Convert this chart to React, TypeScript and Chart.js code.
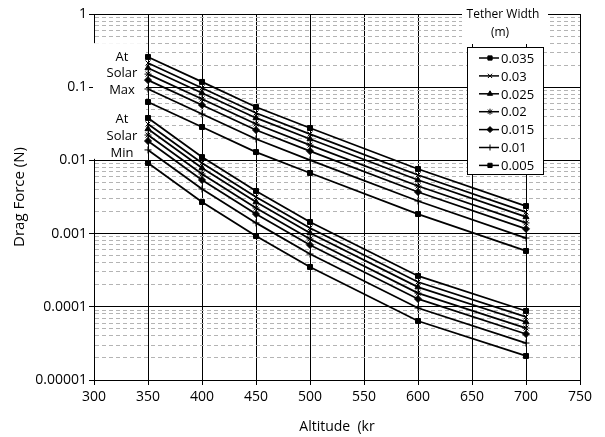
import React, { useEffect, useRef } from 'react';
import { Chart, registerables } from 'chart.js';
import { drawPoint } from 'chart.js/helpers';

Chart.register(...registerables);

const ALTITUDES = [350, 400, 450, 500, 600, 700];
const WIDTHS = ['0.035', '0.03', '0.025', '0.02', '0.015', '0.01', '0.005'];
const POINT_STYLES = ['rect', 'crossRot', 'triangle', 'star', 'rectRot', 'cross', 'rect'];

// Solar maximum drag force (N), one array per tether width
const MAX_0035 = [0.259, 0.118, 0.0536, 0.0277, 0.00763, 0.00238];
const MAX_0030 = [0.214, 0.0975, 0.0444, 0.0229, 0.00632, 0.00197];
const MAX_0025 = [0.183, 0.0833, 0.038, 0.0196, 0.0054, 0.00169];
const MAX_0020 = [0.151, 0.069, 0.0314, 0.0162, 0.00447, 0.0014];
const MAX_0015 = [0.125, 0.0571, 0.026, 0.0134, 0.0037, 0.00116];
const MAX_0010 = [0.0945, 0.043, 0.0196, 0.0101, 0.00279, 0.00087];
const MAX_0005 = [0.0628, 0.0286, 0.013, 0.00673, 0.00185, 0.000579];

// Solar minimum drag force (N)
const MIN_0035 = [0.038, 0.0111, 0.00382, 0.00144, 0.000264, 0.0000876];
const MIN_0030 = [0.0314, 0.00922, 0.00316, 0.00119, 0.000218, 0.0000726];
const MIN_0025 = [0.0269, 0.00787, 0.0027, 0.00102, 0.000186, 0.000062];
const MIN_0020 = [0.0222, 0.00652, 0.00224, 0.000844, 0.000154, 0.0000513];
const MIN_0015 = [0.0184, 0.0054, 0.00185, 0.000699, 0.000128, 0.0000425];
const MIN_0010 = [0.0139, 0.00407, 0.0014, 0.000526, 0.0000963, 0.000032];
const MIN_0005 = [0.00922, 0.0027, 0.000927, 0.00035, 0.000064, 0.0000213];

const SOLAR_MAX = [MAX_0035, MAX_0030, MAX_0025, MAX_0020, MAX_0015, MAX_0010, MAX_0005];
const SOLAR_MIN = [MIN_0035, MIN_0030, MIN_0025, MIN_0020, MIN_0015, MIN_0010, MIN_0005];

const X_MIN = 300;
const X_MAX = 750;
const X_STEP = 50;
const Y_DECADES = [0.00001, 0.0001, 0.001, 0.01, 0.1, 1];
const Y_TICK_LABELS = ['0.00001', '0.0001', '0.001', '0.01', '0.1', '1'];
const MINOR_MULTIPLES = [2, 3, 4, 5, 6, 7, 8, 9];

const FONT = "'Open Sans', 'DejaVu Sans', sans-serif";

function decadeIndex(v: number): number {
  for (let i = 0; i < Y_DECADES.length; i++) {
    if (Math.abs(v - Y_DECADES[i]) / Y_DECADES[i] < 1e-6) return i;
  }
  return -1;
}

const overlayPlugin = {
  id: 'overlay',
  beforeDatasetsDraw(chart: any) {
    const { ctx, chartArea } = chart;
    const xs = chart.scales.x;
    const ys = chart.scales.y;
    ctx.save();
    // white block behind the "At Solar Max / Min" labels
    const boxRight = xs.getPixelForValue(350) - 2;
    const boxTop = ys.getPixelForValue(0.4);
    const boxBottom = ys.getPixelForValue(0.0105);
    ctx.fillStyle = '#fff';
    ctx.fillRect(chartArea.left - 1, boxTop, boxRight - chartArea.left + 1, boxBottom - boxTop);
    ctx.fillStyle = '#000';
    ctx.font = `13px ${FONT}`;
    ctx.textAlign = 'center';
    ctx.textBaseline = 'middle';
    const cx = (chartArea.left + boxRight) / 2 + 2;
    const maxLines = ['At', 'Solar', 'Max'];
    const minLines = ['At', 'Solar', 'Min'];
    maxLines.forEach((t, i) => ctx.fillText(t, cx, 57 + i * 16.5));
    minLines.forEach((t, i) => ctx.fillText(t, cx, 119 + i * 17));
    ctx.restore();
  },
  afterDraw(chart: any) {
    const { ctx } = chart;
    ctx.save();
    // legend title
    ctx.fillStyle = '#fff';
    ctx.fillRect(462, 4, 86, 40);
    ctx.fillStyle = '#000';
    ctx.font = `12px ${FONT}`;
    ctx.textAlign = 'center';
    ctx.textBaseline = 'middle';
    ctx.fillText('Tether Width', 503, 15);
    ctx.fillText('(m)', 500, 33);
    // legend box
    const bx = 467, by = 47, bw = 76, bh = 127;
    ctx.fillStyle = '#fff';
    ctx.fillRect(bx, by, bw, bh);
    ctx.strokeStyle = '#000';
    ctx.lineWidth = 1;
    ctx.strokeRect(bx + 0.5, by + 0.5, bw, bh);
    ctx.font = `13px ${FONT}`;
    ctx.textAlign = 'left';
    WIDTHS.forEach((w, i) => {
      const y = 58 + i * 17.9;
      ctx.strokeStyle = '#000';
      ctx.lineWidth = 1.5;
      ctx.setLineDash([]);
      ctx.beginPath();
      ctx.moveTo(479, y);
      ctx.lineTo(499, y);
      ctx.stroke();
      ctx.fillStyle = '#000';
      ctx.lineWidth = 1;
      drawPoint(ctx, { pointStyle: POINT_STYLES[i], radius: 3, borderWidth: 1, rotation: 0 }, 490, y);
      ctx.fillStyle = '#000';
      ctx.fillText(w, 501, y + 1);
    });
    ctx.restore();
  },
};

export default function App() {
  const canvasRef = useRef<HTMLCanvasElement | null>(null);

  useEffect(() => {
    const canvas = canvasRef.current;
    if (!canvas) return;
    const datasets: any[] = [];
    WIDTHS.forEach((w, i) => {
      const common = {
        borderColor: '#000',
        backgroundColor: '#000',
        pointBackgroundColor: '#000',
        pointBorderColor: '#000',
        borderWidth: 1.8,
        pointStyle: POINT_STYLES[i],
        pointRadius: 3.5,
        pointBorderWidth: 1,
        tension: 0,
      };
      datasets.push({
        ...common,
        label: w + ' max',
        data: ALTITUDES.map((a, j) => ({ x: a, y: SOLAR_MAX[i][j] })),
      });
      datasets.push({
        ...common,
        label: w + ' min',
        data: ALTITUDES.map((a, j) => ({ x: a, y: SOLAR_MIN[i][j] })),
      });
    });

    const chart = new Chart(canvas, {
      type: 'line',
      data: { datasets },
      options: {
        animation: false,
        responsive: false,
        devicePixelRatio: 1,
        layout: { padding: { left: 0, top: 14, right: 25, bottom: 0 } },
        plugins: {
          legend: { display: false },
          tooltip: { enabled: false },
        },
        scales: {
          x: {
            type: 'linear',
            min: X_MIN,
            max: X_MAX,
            ticks: {
              stepSize: X_STEP,
              color: '#000',
              font: { family: FONT, size: 14 },
              padding: 4,
              maxRotation: 0,
            },
            grid: {
              color: '#000',
              lineWidth: 1,
              tickLength: 5,
              tickColor: '#000',
            },
            border: { color: '#000', width: 1 },
            title: {
              display: true,
              text: 'Altitude  (kr',
              color: '#000',
              font: { family: FONT, size: 14 },
              padding: { top: 0, bottom: 2 },
            },
            afterFit: (s: any) => {
              s.height = 57;
            },
          },
          y: {
            type: 'logarithmic',
            min: 0.00001,
            max: 1,
            afterBuildTicks: (s: any) => {
              const t: any[] = [];
              for (let d = 0; d < Y_DECADES.length; d++) {
                t.push({ value: Y_DECADES[d], major: true });
                if (d < Y_DECADES.length - 1) {
                  MINOR_MULTIPLES.forEach((m) => t.push({ value: Y_DECADES[d] * m, major: false }));
                }
              }
              s.ticks = t;
            },
            ticks: {
              autoSkip: false,
              color: '#000',
              font: { family: FONT, size: 14 },
              padding: 2,
              callback: (v: any) => {
                const k = decadeIndex(Number(v));
                return k >= 0 ? Y_TICK_LABELS[k] : '';
              },
            },
            grid: {
              color: (c: any) => (c.tick && decadeIndex(c.tick.value) >= 0 ? '#000' : '#b4b4b4'),
              lineWidth: 1,
              tickLength: 5,
              tickColor: (c: any) => (c.tick && decadeIndex(c.tick.value) >= 0 ? '#000' : 'rgba(0,0,0,0)'),
            },
            border: {
              color: '#000',
              width: 1,
              dash: (c: any) => (c.type === 'tick' && c.tick && decadeIndex(c.tick.value) < 0 ? [4, 3] : []),
            },
            title: {
              display: true,
              text: 'Drag Force (N)',
              color: '#000',
              font: { family: FONT, size: 15 },
              padding: { top: 11, bottom: 0 },
            },
            afterFit: (s: any) => {
              s.width = 94;
            },
          },
        },
      },
      plugins: [overlayPlugin],
    });

    return () => {
      chart.destroy();
    };
  }, []);

  return (
    <div style={{ position: 'absolute', left: 0, top: 0, width: 605, height: 437, background: '#fff' }}>
      <canvas ref={canvasRef} width={605} height={437} />
    </div>
  );
}
